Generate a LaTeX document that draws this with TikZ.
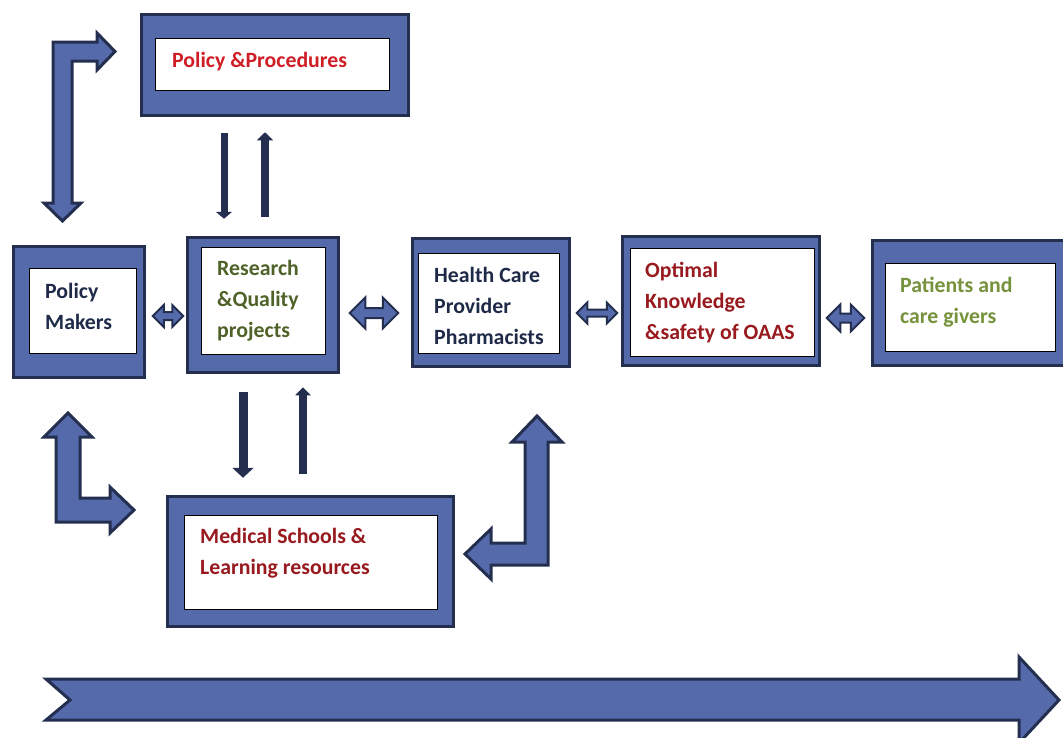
\documentclass[tikz,border=0pt]{standalone}
\usepackage{fontspec}
\setmainfont{Carlito}
\usetikzlibrary{positioning,arrows.meta,calc}

\definecolor{boxblue}{RGB}{84,106,170}
\definecolor{boxline}{RGB}{36,47,80}
\definecolor{txtred}{RGB}{208,30,38}
\definecolor{txtnavy}{RGB}{30,42,72}
\definecolor{txtolive}{RGB}{79,98,40}
\definecolor{txtmaroon}{RGB}{152,26,30}
\definecolor{txtgreen}{RGB}{118,146,60}

\tikzset{
  outerbox/.style={draw=boxline, line width=3.5pt, fill=boxblue, inner sep=0pt},
  innerbox/.style={draw=black, line width=0.8pt, fill=white, inner sep=0pt},
  boxtext/.style={font=\bfseries\fontsize{21.8}{31}\selectfont, align=left, anchor=base west, inner sep=0pt},
  dblarr/.style={draw=boxline, line width=2pt, fill=boxblue, line join=miter},
  thinarr/.style={draw=boxline, line width=#1},
  bentarr/.style={draw=boxline, line width=3pt, fill=boxblue, line join=miter},
}

% horizontal block arrow with two heads: left end, right end, half head, half shaft
\newcommand{\dblblock}[4]{%
  \draw[dblarr] (#1) -- ++(#3,-#3) -- ++(0,{#3-#4}) -- ($(#2)+(-#3,-#4)$) -- ++(0,{#4-#3})
    -- (#2) -- ++(-#3,#3) -- ++(0,{#4-#3}) -- ($(#1)+(#3,#4)$) -- ++(0,{#3-#4}) -- cycle;}

\begin{document}
\begin{tikzpicture}[x=1pt,y=-1pt]
    \useasboundingbox (0,0) rectangle (1063,737);

    % outer frames
    \node[outerbox, minimum width=267pt, minimum height=101pt] (pp) at (275,65) {};
    \node[outerbox, minimum width=131pt, minimum height=131pt] (pm) at (79,312) {};
    \node[outerbox, minimum width=151pt, minimum height=135pt] (rq) at (263,305) {};
    \node[outerbox, minimum width=157pt, minimum height=128pt] (hc) at (491,302.5) {};
    \node[outerbox, minimum width=197pt, minimum height=129pt] (ok) at (721,301) {};
    \node[outerbox, minimum width=205pt, minimum height=125pt] (pc) at (975,303) {};
    \node[outerbox, minimum width=286pt, minimum height=130pt] (ms) at (310.5,561.5) {};

    % white inner boxes
    \node[innerbox, minimum width=234pt, minimum height=52pt] (pp-in) at (272,64) {};
    \node[innerbox, minimum width=107pt, minimum height=85pt] (pm-in) at (82.5,310.5) {};
    \node[innerbox, minimum width=124pt, minimum height=107pt] (rq-in) at (263,300.5) {};
    \node[innerbox, minimum width=141pt, minimum height=100pt] (hc-in) at (488.5,303) {};
    \node[innerbox, minimum width=184pt, minimum height=108pt] (ok-in) at (722,302) {};
    \node[innerbox, minimum width=170pt, minimum height=88pt] (pc-in) at (970,307) {};
    \node[innerbox, minimum width=253pt, minimum height=94pt] (ms-in) at (310.5,562) {};

    % labels (base = baseline of the last line)
    \node[boxtext, text=txtred] (pp-txt) at (172,67) {Policy \&Procedures};
    \node[boxtext, text=txtnavy] (pm-txt) at (45,329) {Policy\\Makers};
    \node[boxtext, text=txtolive] (rq-txt) at (217,337) {Research\\\&Quality\\projects};
    \node[boxtext, text=txtnavy] (hc-txt) at (434,344) {Health Care\\Provider\\Pharmacists};
    \node[boxtext, text=txtmaroon] (ok-txt) at (645,339) {Optimal\\Knowledge\\\&safety of OAAS};
    \node[boxtext, text=txtgreen] (pc-txt) at (900,323) {Patients and\\care givers};
    \node[boxtext, text=txtmaroon] (ms-txt) at (200,574) {Medical Schools \&\\Learning resources};

    % double arrows between boxes
    \dblblock{$(pm.east)+(6.5,4)$}{$(rq.west)+(-2.5,11)$}{11}{4}
    \dblblock{$(rq.east)+(9.5,8)$}{$(hc.west)+(-12.5,10.5)$}{15.5}{5}
    \dblblock{$(hc.east)+(5.5,10.5)$}{$(ok.west)+(-3.5,12)$}{10.5}{3.5}
    \dblblock{$(ok.east)+(5.5,17)$}{$(pc.west)+(-6.5,15)$}{13.5}{4.5}

    % thin arrows up and down
    \draw[thinarr=7pt, -{Triangle[width=16pt,length=7pt]}, shorten <=16pt, shorten >=17pt]
      ([xshift=-39pt]rq.north |- pp.south) -- ([xshift=-39pt]rq.north);
    \draw[thinarr=8pt, -{Triangle[width=16pt,length=8pt]}, shorten <=19pt, shorten >=15pt]
      ([xshift=2pt]rq.north) -- ([xshift=2pt]rq.north |- pp.south);
    \draw[thinarr=9pt, -{Triangle[width=21pt,length=10pt]}, shorten <=18pt, shorten >=17pt]
      ([xshift=-20pt]rq.south) -- ([xshift=-20pt]rq.south |- ms.north);
    \draw[thinarr=8pt, -{Triangle[width=15pt,length=8pt]}, shorten <=21pt, shorten >=13pt]
      ([xshift=40pt]rq.south |- ms.north) -- ([xshift=40pt]rq.south);

    % bent arrows
    \draw[bentarr] (53,42) -- (97,42) -- (97,33) -- (115,51.5) -- (97,70) -- (97,61) -- (72,61)
      -- (72,203) -- (81,203) -- (62.5,221) -- (44,203) -- (53,203) -- cycle;
    \draw[bentarr] (68,413) -- (92,437) -- (80,437) -- (80,498) -- (110,498) -- (110,487)
      -- (134,510) -- (110,533) -- (110,522) -- (56,522) -- (56,437) -- (44,437) -- cycle;
    \draw[bentarr] (537,416) -- (562,442) -- (548,442) -- (548,565) -- (491,565) -- (491,579)
      -- (465,554) -- (491,529) -- (491,543) -- (525,543) -- (525,442) -- (512,442) -- cycle;

    % long arrow at the bottom
    \draw[bentarr] (46,679) -- (1019,679) -- (1019,657) -- (1059,700) -- (1019,743)
      -- (1019,720) -- (46,720) -- (70,700) -- cycle;

\end{tikzpicture}
\end{document}
